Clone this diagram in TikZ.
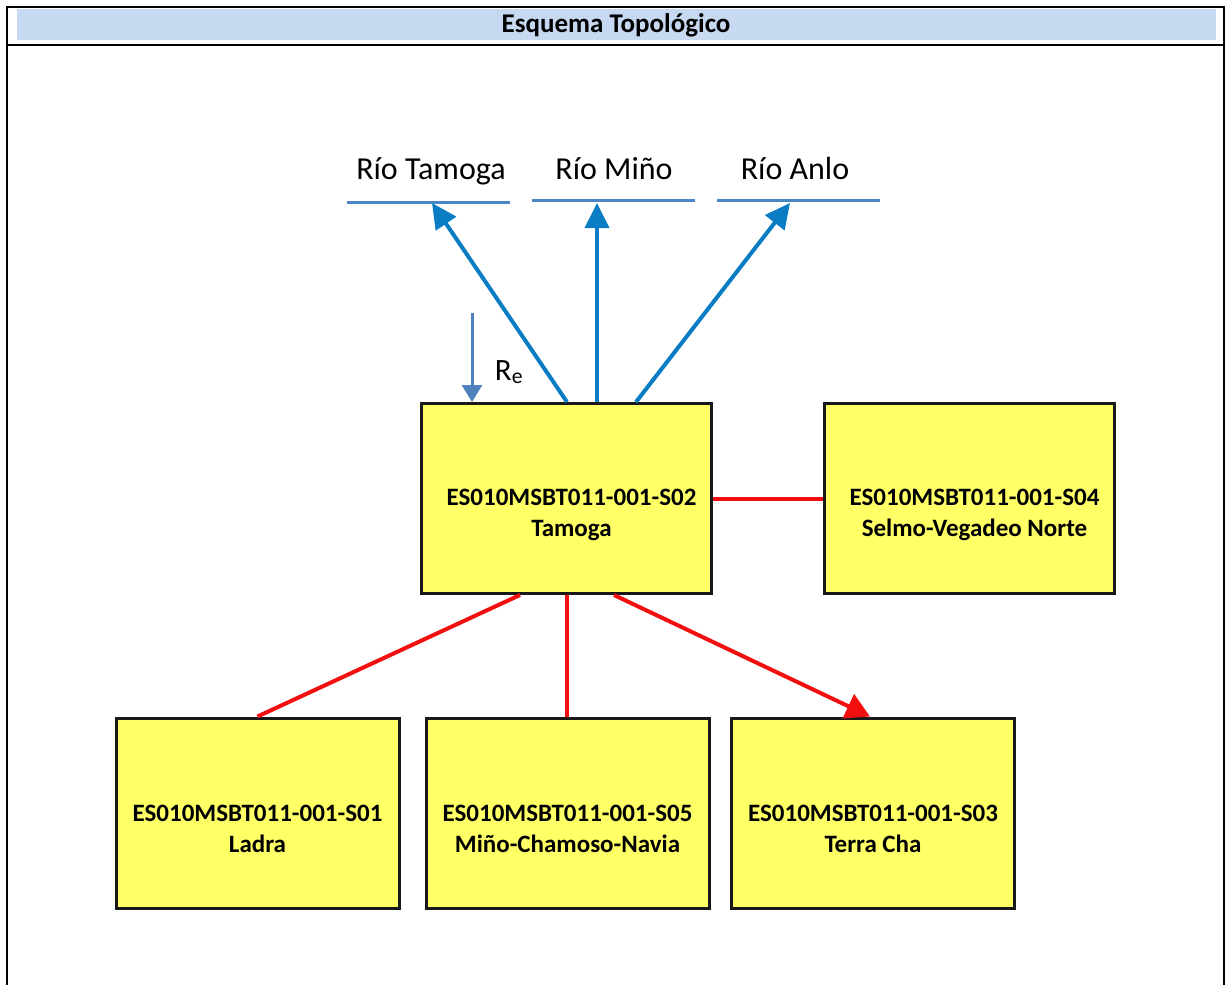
\documentclass[tikz,border=0pt]{standalone}
\usepackage{fontspec}
\setmainfont{Carlito}
\usetikzlibrary{arrows.meta,shadows}
\definecolor{hdrblue}{HTML}{C6D9F1}
\definecolor{boxyellow}{HTML}{FFFF66}
\definecolor{riverblue}{HTML}{0A7CC4}
\definecolor{lineblue}{HTML}{4A86C6}
\definecolor{reblue}{HTML}{4F81BD}
\definecolor{relred}{HTML}{F20F0F}
\tikzset{
  px/.style={x=1pt,y=-1pt},
  frameline/.style={line width=2.4pt,black},
  databox/.style={draw=black!90, line width=3pt, fill=boxyellow,
    minimum width=290pt, minimum height=190pt, inner sep=0pt,
    drop shadow={shadow xshift=1.5pt, shadow yshift=-1.5pt, fill=black!80, opacity=1}},
  boxtext/.style={align=center, font=\fontsize{25}{31}\selectfont\bfseries, inner sep=0pt},
  riverlabel/.style={font=\fontsize{32}{36}\selectfont, inner sep=0pt},
  riverline/.style={line width=3pt, lineblue},
  flow/.style={line width=4pt, riverblue, -{Triangle[length=25pt,width=24pt]}},
  relline/.style={line width=4pt, relred},
}
\begin{document}
\begin{tikzpicture}[px]
\useasboundingbox (0,0) rectangle (1226,985);
% frame and header
\fill[hdrblue] (17,9) rectangle (1216,40);
\draw[frameline] (7,985) -- (7,7) -- (1224,7) -- (1224,985);
\draw[frameline] (7,45) -- (1224,45);
\node[font=\fontsize{27}{30}\selectfont\bfseries, inner sep=0pt] (title) at (616,25) {Esquema Topológico};

% rivers
\coordinate (tA) at (347,202); \coordinate (tB) at (510,202);
\coordinate (mA) at (532,200); \coordinate (mB) at (695,200);
\coordinate (aA) at (717,200); \coordinate (aB) at (880,200);
\draw[riverline] (tA) -- (tB);
\draw[riverline] (mA) -- (mB);
\draw[riverline] (aA) -- (aB);
\node[riverlabel] (lt) at (431,171) {Río Tamoga};
\node[riverlabel] (lm) at (614,169) {Río Miño};
\node[riverlabel] (la) at (795,168) {Río Anlo};
\coordinate (tT) at (432,203);
\coordinate (mT) at (597,203);
\coordinate (aT) at (790,203);

% boxes
\node[databox] (s02) at (566.5,498.5) {};
\node[databox] (s04) at (969.5,498.5) {};
\node[databox, minimum width=283pt] (s01) at (257.5,813) {};
\node[databox, minimum width=283pt] (s05) at (567.5,813) {};
\node[databox, minimum width=283pt] (s03) at (873,813) {};
\node[boxtext] (t02) at ([xshift=5pt,yshift=-16pt]s02.center) {ES010MSBT011-001-S02\\Tamoga};
\node[boxtext] (t04) at ([xshift=5pt,yshift=-16pt]s04.center) {ES010MSBT011-001-S04\\Selmo-Vegadeo Norte};
\node[boxtext] (t01) at ([yshift=-16pt]s01.center) {ES010MSBT011-001-S01\\Ladra};
\node[boxtext] (t05) at ([yshift=-16pt]s05.center) {ES010MSBT011-001-S05\\Miño-Chamoso-Navia};
\node[boxtext] (t03) at ([yshift=-16pt]s03.center) {ES010MSBT011-001-S03\\Terra Cha};

% flows to rivers
\draw[flow] (s02.north -| 567,0) -- (tT);
\draw[flow] (s02.north -| 597,0) -- (mT);
\draw[flow] (s02.north -| 636,0) -- (aT);

% recharge
\coordinate (reS) at (472,313);
\draw[line width=3pt, reblue, -{Triangle[length=17pt,width=20pt]}] (reS) -- (s02.north -| reS);
\node[font=\fontsize{31}{34}\selectfont, inner sep=0pt] (re) at (509,372) {R\textsubscript{e}};

% relations
\draw[relline] (s02.east) -- (s04.west);
\draw[relline] (s02.south -| 520,0) -- (s01.north);
\draw[relline] (s02.south -| 567,0) -- (s05.north -| 567,0);
\draw[relline, -{Triangle[length=24pt,width=26pt]}] (s02.south -| 614,0) -- (s03.north -| 870,0);
\end{tikzpicture}
\end{document}
